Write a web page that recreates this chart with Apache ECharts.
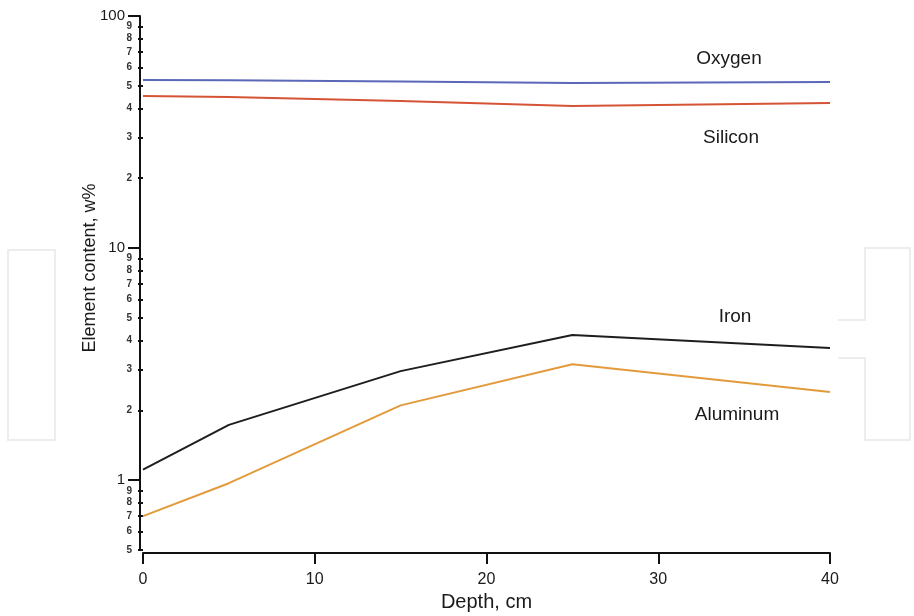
<!DOCTYPE html>
<html>
<head>
<meta charset="utf-8">
<script src="https://cdn.jsdelivr.net/npm/echarts@6/dist/echarts.min.js"></script>
<style>
  html, body { margin: 0; padding: 0; background: #fff; }
  #chart { width: 914px; height: 616px; }
</style>
</head>
<body>
<div id="chart"></div>
<script>
// Depth profile of element content (w%), log scale
const depths = [0, 5, 15, 25, 40];
const oxygen = [53, 52.8, 52.2, 51.5, 52];
const silicon = [45.2, 44.8, 43, 40.9, 42.2];
const iron = [1.11, 1.73, 2.95, 4.22, 3.71];
const aluminum = [0.70, 0.97, 2.10, 3.16, 2.40];

const xTicks = [0, 10, 20, 30, 40];
const majorTicks = [1, 10, 100];
const minorTicks = [0.5, 0.6, 0.7, 0.8, 0.9, 2, 3, 4, 5, 6, 7, 8, 9, 20, 30, 40, 50, 60, 70, 80, 90];

const seriesNames = ['Oxygen', 'Silicon', 'Iron', 'Aluminum'];
const seriesColors = ['#5b68b8', '#d65436', '#1e1e1e', '#e39a3b'];
const seriesValues = [oxygen, silicon, iron, aluminum];

const FONT = '"Liberation Sans", Arial, sans-serif';

function leadingDigit(v) {
  const p = Math.pow(10, Math.floor(Math.log10(v) + 1e-9));
  return String(Math.round(v / p));
}

const chart = echarts.init(document.getElementById('chart'), null, { renderer: 'canvas' });

const yBase = {
  type: 'log',
  logBase: 10,
  min: 0.5,
  max: 100,
  position: 'left',
  offset: 3,
  splitLine: { show: false },
  axisLine: { show: false }
};

// text label placed next to each curve
function curveLabel(text, cx, cy) {
  return {
    type: 'text',
    x: cx, y: cy,
    style: { text: text, font: '19px ' + FONT, fill: '#1a1a1a', align: 'center', verticalAlign: 'middle' }
  };
}

chart.setOption({
  animation: false,
  backgroundColor: '#ffffff',
  grid: { left: 143, right: 84, top: 16, bottom: 66, containLabel: false, outerBoundsMode: 'none' },
  xAxis: {
    type: 'value',
    min: 0,
    max: 40,
    interval: 10,
    offset: 3,
    name: 'Depth, cm',
    nameLocation: 'middle',
    nameGap: 39,
    nameTextStyle: { fontFamily: FONT, fontSize: 20, color: '#1a1a1a' },
    axisLine: { show: true, onZero: false, lineStyle: { color: '#111', width: 2 } },
    axisTick: { show: true, length: 11, lineStyle: { color: '#111', width: 2 } },
    axisLabel: {
      customValues: xTicks,
      margin: 19,
      fontFamily: FONT,
      fontSize: 16,
      color: '#1a1a1a'
    },
    splitLine: { show: false }
  },
  yAxis: [
    Object.assign({}, yBase, {
      axisLine: { show: true, onZero: false, lineStyle: { color: '#111', width: 2 } },
      axisTick: { show: true, inside: false, customValues: majorTicks, length: 12, lineStyle: { color: '#111', width: 2 } },
      axisLabel: {
        customValues: majorTicks,
        margin: 15,
        fontFamily: FONT,
        fontSize: 15,
        color: '#1a1a1a',
        formatter: v => String(Math.round(v))
      }
    }),
    Object.assign({}, yBase, {
      axisTick: { show: true, inside: false, customValues: minorTicks, length: 5, lineStyle: { color: '#111', width: 2 } },
      axisLabel: {
        customValues: minorTicks,
        margin: 8,
        fontFamily: FONT,
        fontSize: 10,
        fontWeight: 'bold',
        color: '#333',
        formatter: v => leadingDigit(v)
      }
    })
  ],
  series: seriesNames.map((name, i) => ({
    name: name,
    type: 'line',
    yAxisIndex: 0,
    data: depths.map((d, j) => [d, seriesValues[i][j]]),
    symbol: 'none',
    lineStyle: { color: seriesColors[i], width: 2 },
    z: 3
  })),
  graphic: [
    // faint bracket outlines at the page edges
    {
      type: 'rect',
      shape: { x: 8, y: 250, width: 47, height: 190 },
      style: { fill: 'none', stroke: '#ededed', lineWidth: 2 },
      silent: true, z: -1
    },
    {
      type: 'polyline',
      shape: { points: [[838, 320], [865, 320], [865, 248], [910, 248], [910, 440], [865, 440], [865, 358], [838, 358]] },
      style: { fill: 'none', stroke: '#ededed', lineWidth: 2 },
      silent: true, z: -1
    },
    // y-axis title
    {
      type: 'text',
      x: 90, y: 268,
      rotation: Math.PI / 2,
      style: { text: 'Element content, w%', font: '18px ' + FONT, fill: '#1a1a1a', align: 'center', verticalAlign: 'middle' }
    },
    curveLabel('Oxygen', 729, 59),
    curveLabel('Silicon', 731, 138),
    curveLabel('Iron', 735, 317),
    curveLabel('Aluminum', 737, 415)
  ]
});
</script>
</body>
</html>
